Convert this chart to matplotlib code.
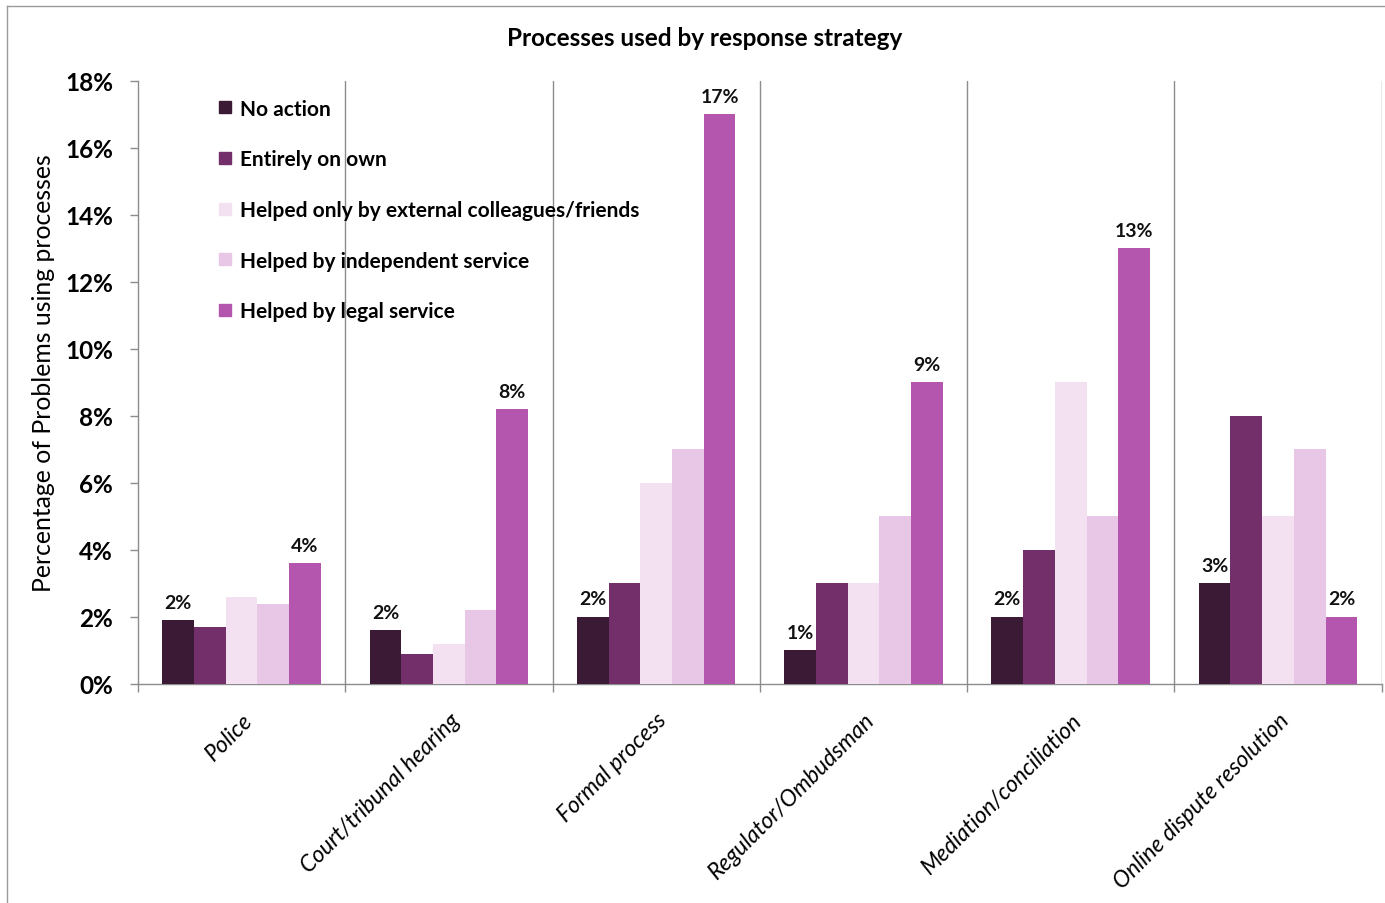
import matplotlib
matplotlib.use("Agg")
import matplotlib.pyplot as plt
import numpy as np
from matplotlib.lines import Line2D

plt.rcParams['font.family'] = ['Lato', 'DejaVu Sans']

categories = ["Police", "Court/tribunal hearing", "Formal process",
              "Regulator/Ombudsman", "Mediation/conciliation", "Online dispute resolution"]
series_names = ["No action", "Entirely on own", "Helped only by external colleagues/friends",
                "Helped by independent service", "Helped by legal service"]
no_action = [1.9, 1.6, 2.0, 1.0, 2.0, 3.0]
entirely_on_own = [1.7, 0.9, 3.0, 3.0, 4.0, 8.0]
external_friends = [2.6, 1.2, 6.0, 3.0, 9.0, 5.0]
independent_service = [2.4, 2.2, 7.0, 5.0, 5.0, 7.0]
legal_service = [3.6, 8.2, 17.0, 9.0, 13.0, 2.0]
series = [no_action, entirely_on_own, external_friends, independent_service, legal_service]
colors = ["#3B1A36", "#722F6A", "#F3E1F2", "#E8C7E6", "#B556AE"]
labelled_series = [0, 4]
yticks = [0, 2, 4, 6, 8, 10, 12, 14, 16, 18]

fig = plt.figure(figsize=(13.85, 9.04), dpi=100)
ax = fig.add_axes([0.0996, 0.2423, 0.898, 0.667])

x = np.arange(len(categories))
w = 0.153
for i, (vals, c, name) in enumerate(zip(series, colors, series_names)):
    pos = x + (i - 2) * w
    ax.bar(pos, vals, width=w, color=c, label=name, zorder=3)
    if i in labelled_series:
        for p, v in zip(pos, vals):
            ax.annotate(f"{int(round(v))}%", (p, v), xytext=(0, 7), textcoords="offset points",
                        ha="center", va="bottom", fontsize=14, fontweight="bold", color="#111111")

ax.set_xlim(-0.5, len(categories) - 0.5)
ax.set_ylim(0, 18)
ax.set_yticks(yticks)
ax.set_yticklabels([f"{t}%" for t in yticks], fontsize=17.5, fontweight="bold")
for b in np.arange(0.5, len(categories), 1.0):
    ax.axvline(b, color="#8c8c8c", lw=1.0, zorder=1)

ax.set_xticks(x)
ax.set_xticklabels(categories, rotation=45, ha="right", va="top", rotation_mode="anchor",
                   fontsize=16.5, fontstyle="italic")
ax.tick_params(axis="x", length=0, pad=18)
ax.set_xticks(np.arange(-0.5, len(categories), 1.0), minor=True)
ax.tick_params(axis="x", which="minor", length=6, color="#8c8c8c", width=1.0)
ax.tick_params(axis="y", length=6, color="#8c8c8c", width=1.0, pad=12)

for s in ["top", "right"]:
    ax.spines[s].set_visible(False)
for s in ["left", "bottom"]:
    ax.spines[s].set_color("#8c8c8c")
    ax.spines[s].set_linewidth(1.0)

ax.set_ylabel("Percentage of Problems using processes", fontsize=17.8)
ax.yaxis.set_label_coords(-0.067, 0.517)
fig.text(0.509, 1 - 38 / 904, "Processes used by response strategy", fontsize=17.5,
         fontweight="bold", ha="center", va="center")

handles = [Line2D([0], [0], marker="s", linestyle="none", markersize=9,
                  markerfacecolor=c, markeredgecolor=c) for c in colors]
leg = ax.legend(handles, series_names, loc="upper left", bbox_to_anchor=(0.056, 0.988),
                frameon=False, prop={"weight": "bold", "size": 15.0}, labelspacing=1.47,
                handlelength=0.7, handletextpad=0.35, borderpad=0)

fig.add_artist(Line2D([0.005, 1.0], [0.992, 0.992], transform=fig.transFigure, color="#9a9a9a", lw=1))
fig.add_artist(Line2D([0.005, 0.005], [0.0, 0.992], transform=fig.transFigure, color="#9a9a9a", lw=1))

fig.savefig("out.png", dpi=100)
